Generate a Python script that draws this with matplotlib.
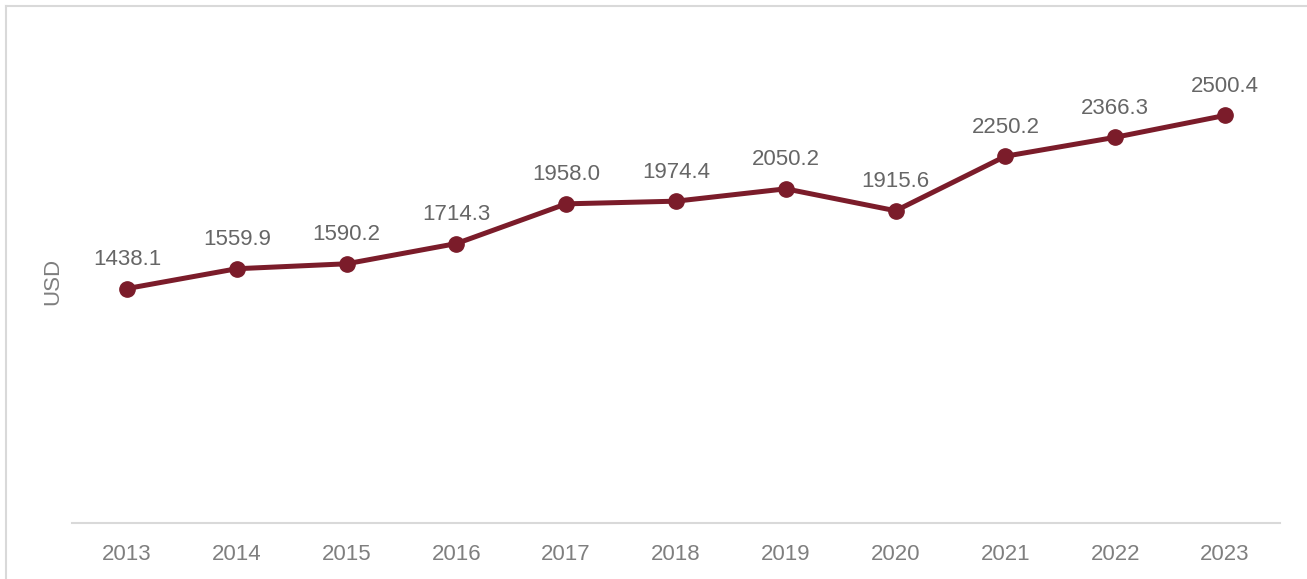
import matplotlib.pyplot as plt
from matplotlib.lines import Line2D

years = ['2013', '2014', '2015', '2016', '2017', '2018', '2019', '2020', '2021', '2022', '2023']
usd = [1438.1, 1559.9, 1590.2, 1714.3, 1958.0, 1974.4, 2050.2, 1915.6, 2250.2, 2366.3, 2500.4]

plt.rcParams['font.family'] = ['Liberation Sans', 'DejaVu Sans']

fig = plt.figure(figsize=(13.07, 5.79), dpi=100)
ax = fig.add_axes([72 / 1307, 56 / 579, 1208 / 1307, 489 / 579])

line_color = '#7B1C2A'
xs = range(len(years))
ax.plot(xs, usd, color=line_color, linewidth=3.6, marker='o', markersize=11, solid_capstyle='round')

# value labels above each point
for x, v in zip(xs, usd):
    ax.annotate(f'{v:.1f}', (x, v), xytext=(0, 17), textcoords='offset points',
                ha='center', va='baseline', fontsize=16, color='#666666')

ax.set_xlim(-0.5, len(years) - 0.5)
ax.set_ylim(0, 3000)
ax.set_xticks(list(xs))
ax.set_xticklabels(years, fontsize=16, color='#7f7f7f')
ax.tick_params(axis='x', length=0, pad=15)
ax.set_yticks([])
ax.set_ylabel('USD', fontsize=16, color='#7f7f7f')
ax.yaxis.set_label_coords(-0.0075, 0.493)

for side in ['top', 'right', 'left']:
    ax.spines[side].set_visible(False)
ax.spines['bottom'].set_color('#d9d9d9')
ax.spines['bottom'].set_linewidth(1.5)

# outer frame of the chart area
fig.add_artist(Line2D([5.5 / 1307, 5.5 / 1307], [0, 1 - 5.5 / 579], transform=fig.transFigure,
                      color='#d9d9d9', linewidth=1.5))
fig.add_artist(Line2D([5.5 / 1307, 1], [1 - 5.5 / 579, 1 - 5.5 / 579], transform=fig.transFigure,
                      color='#d9d9d9', linewidth=1.5))

fig.savefig('out.png', dpi=100)
